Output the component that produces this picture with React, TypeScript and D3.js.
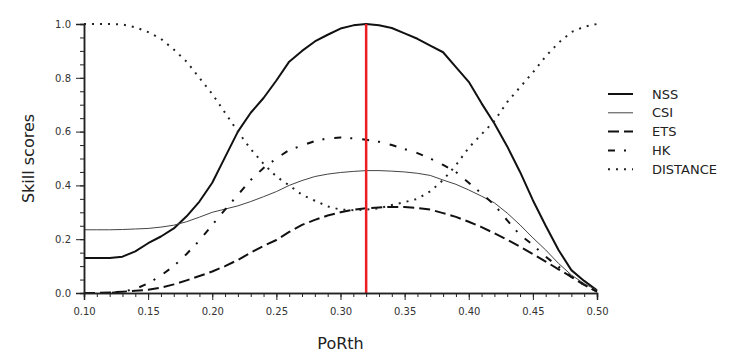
import React, { useRef, useEffect } from 'react';
import * as d3 from 'd3';

// PoRth thresholds 0.10 .. 0.50 by 0.01
const porth = [
  0.10, 0.11, 0.12, 0.13, 0.14, 0.15, 0.16, 0.17, 0.18, 0.19,
  0.20, 0.21, 0.22, 0.23, 0.24, 0.25, 0.26, 0.27, 0.28, 0.29,
  0.30, 0.31, 0.32, 0.33, 0.34, 0.35, 0.36, 0.37, 0.38, 0.39,
  0.40, 0.41, 0.42, 0.43, 0.44, 0.45, 0.46, 0.47, 0.48, 0.49, 0.50,
];

const nss = [
  0.13, 0.13, 0.13, 0.135, 0.155, 0.185, 0.21, 0.24, 0.285, 0.34,
  0.41, 0.505, 0.6, 0.67, 0.725, 0.79, 0.86, 0.9, 0.935, 0.96,
  0.983, 0.995, 1.0, 0.995, 0.985, 0.965, 0.945, 0.92, 0.895, 0.84,
  0.785, 0.705, 0.63, 0.545, 0.45, 0.345, 0.25, 0.16, 0.085, 0.045, 0.01,
];

const csi = [
  0.235, 0.235, 0.235, 0.236, 0.238, 0.24, 0.245, 0.252, 0.265, 0.282,
  0.3, 0.312, 0.324, 0.34, 0.358, 0.377, 0.4, 0.418, 0.433, 0.442,
  0.448, 0.452, 0.455, 0.455, 0.453, 0.45, 0.445, 0.437, 0.42, 0.404,
  0.383, 0.36, 0.335, 0.297, 0.253, 0.205, 0.16, 0.11, 0.067, 0.035, 0.01,
];

const ets = [
  0.0, 0.0, 0.002, 0.005, 0.008, 0.012, 0.02, 0.032, 0.047, 0.063,
  0.08, 0.1, 0.123, 0.15, 0.175, 0.197, 0.227, 0.253, 0.272, 0.288,
  0.3, 0.31, 0.315, 0.318, 0.32, 0.32, 0.316, 0.31, 0.297, 0.283,
  0.265, 0.245, 0.222, 0.198, 0.172, 0.145, 0.117, 0.088, 0.06, 0.03, 0.005,
];

const hk = [
  0.0, 0.0, 0.0, 0.005, 0.015, 0.036, 0.065, 0.1, 0.145, 0.195,
  0.253, 0.31, 0.365, 0.42, 0.465, 0.5, 0.532, 0.548, 0.565, 0.575,
  0.578, 0.575, 0.57, 0.562, 0.55, 0.535, 0.52, 0.5, 0.476, 0.45,
  0.41, 0.37, 0.328, 0.27, 0.216, 0.179, 0.135, 0.098, 0.06, 0.03, 0.005,
];

const distance = [
  1.0, 1.0, 1.0, 0.998, 0.988, 0.97, 0.945, 0.905, 0.86, 0.8,
  0.74, 0.67, 0.6, 0.535, 0.48, 0.433, 0.4, 0.365, 0.343, 0.322,
  0.31, 0.308, 0.31, 0.315, 0.327, 0.338, 0.35, 0.378, 0.42, 0.475,
  0.54, 0.59, 0.64, 0.71, 0.765, 0.82, 0.88, 0.93, 0.97, 0.99, 1.0,
];

const bestPorth = 0.32;
const xTicks = [0.1, 0.15, 0.2, 0.25, 0.3, 0.35, 0.4, 0.45, 0.5];
const yTicks = [0, 0.2, 0.4, 0.6, 0.8, 1.0];

const series = [
  { name: 'NSS', values: nss, width: 2, dash: null, color: '#111' },
  { name: 'CSI', values: csi, width: 1, dash: null, color: '#444' },
  { name: 'ETS', values: ets, width: 2, dash: '11,5', color: '#111' },
  { name: 'HK', values: hk, width: 2, dash: '7,9,2,10', color: '#111' },
  { name: 'DISTANCE', values: distance, width: 2, dash: '2,6', color: '#222' },
];

const App = () => {
  const svgRef = useRef<SVGSVGElement>(null);

  useEffect(() => {
    const svg = d3.select(svgRef.current);
    svg.selectAll('*').remove();

    const width = 737;
    const height = 352;
    const font = 'DejaVu Sans, sans-serif';

    const x = d3.scaleLinear().domain([0.1, 0.5]).range([84, 597]);
    const y = d3.scaleLinear().domain([0, 1]).range([293, 24]);

    // curves
    const line = d3.line<number>()
      .x((d, i) => x(porth[i]))
      .y(d => y(d));

    svg.append('g')
      .selectAll('path')
      .data(series)
      .join('path')
      .attr('d', d => line(d.values))
      .attr('fill', 'none')
      .attr('stroke', d => d.color)
      .attr('stroke-width', d => d.width)
      .attr('stroke-dasharray', d => d.dash)
      .attr('stroke-linejoin', 'round');

    // red vertical line at best threshold
    svg.append('line')
      .attr('x1', x(bestPorth)).attr('x2', x(bestPorth))
      .attr('y1', y(0)).attr('y2', y(1))
      .attr('stroke', '#ee1c25')
      .attr('stroke-width', 2.5);

    // x axis
    const xAxis = svg.append('g')
      .attr('transform', `translate(0,${y(0)})`);
    xAxis.call(
      d3.axisBottom(x).tickValues(d3.range(0.1, 0.5001, 0.01)).tickSize(4).tickFormat(() => '')
    );
    xAxis.append('g').call(
      d3.axisBottom(x).tickValues(xTicks).tickSize(7).tickPadding(8).tickFormat(d3.format('.2f'))
    );
    xAxis.selectAll('.domain').attr('stroke', '#222').attr('stroke-width', 1.5);
    xAxis.selectAll('.tick line').attr('stroke', '#222');
    xAxis.selectAll('text')
      .attr('font-family', font).attr('font-size', 10).attr('fill', '#333');

    // y axis
    const yAxis = svg.append('g')
      .attr('transform', `translate(${x(0.1)},0)`);
    yAxis.call(
      d3.axisLeft(y).tickValues(d3.range(0, 1.0001, 0.05)).tickSize(4).tickFormat(() => '')
    );
    yAxis.append('g').call(
      d3.axisLeft(y).tickValues(yTicks).tickSize(8).tickPadding(5).tickFormat(d3.format('.1f'))
    );
    yAxis.selectAll('.domain').attr('stroke', '#222').attr('stroke-width', 1.5);
    yAxis.selectAll('.tick line').attr('stroke', '#222');
    yAxis.selectAll('text')
      .attr('font-family', font).attr('font-size', 10).attr('fill', '#333');

    // axis labels
    svg.append('text')
      .attr('x', (x(0.1) + x(0.5)) / 2)
      .attr('y', 349)
      .attr('text-anchor', 'middle')
      .attr('font-family', font)
      .attr('font-size', 16)
      .attr('fill', '#222')
      .text('PoRth');

    svg.append('text')
      .attr('transform', `translate(34,${(y(0) + y(1)) / 2}) rotate(-90)`)
      .attr('text-anchor', 'middle')
      .attr('font-family', font)
      .attr('font-size', 16)
      .attr('fill', '#222')
      .text('Skill scores');

    // legend
    const legend = svg.append('g')
      .selectAll('g')
      .data(series)
      .join('g')
      .attr('transform', (d, i) => `translate(608,${94 + i * 18.8})`);
    legend.append('line')
      .attr('x1', 0).attr('x2', 25)
      .attr('stroke', d => d.color)
      .attr('stroke-width', d => d.width)
      .attr('stroke-dasharray', d => d.dash);
    legend.append('text')
      .attr('x', 44)
      .attr('dy', '0.35em')
      .attr('font-family', font)
      .attr('font-size', 13)
      .attr('fill', '#222')
      .text(d => d.name);
  }, []);

  return <svg ref={svgRef} width={737} height={352} style={{ position: 'absolute', left: 0, top: 0 }} />;
};

export default App;
